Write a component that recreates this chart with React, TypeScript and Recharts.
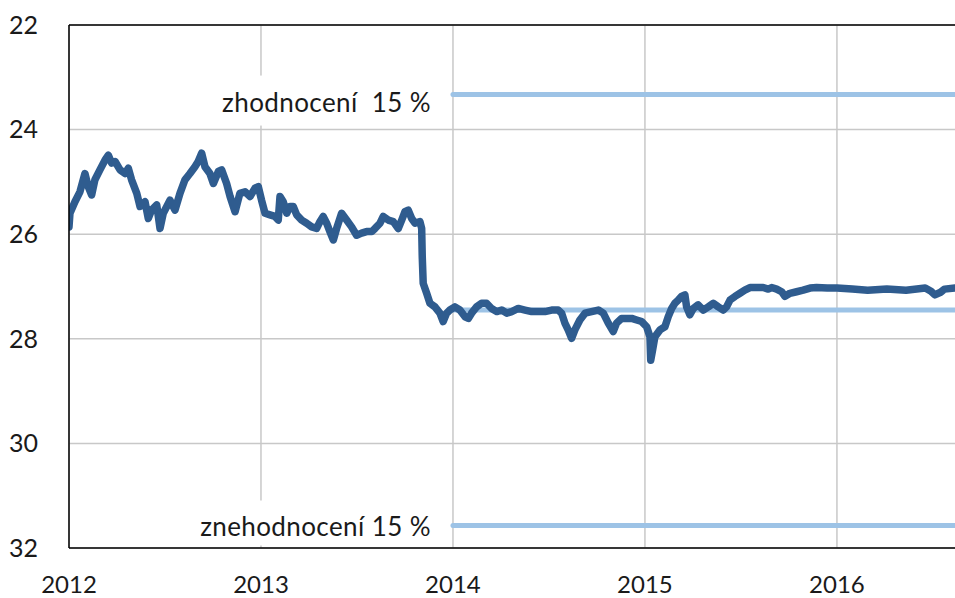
import React from 'react';
import { LineChart, Line, XAxis, YAxis, CartesianGrid, ReferenceLine } from 'recharts';

// EUR/CZK exchange rate (decimal year, CZK per EUR)
const rateDates = [
  2012.0, 2012.005, 2012.031, 2012.057, 2012.083, 2012.1, 2012.118, 2012.135, 2012.161, 2012.188,
  2012.205, 2012.222, 2012.24, 2012.266, 2012.292, 2012.309, 2012.326, 2012.353, 2012.37, 2012.396,
  2012.413, 2012.43, 2012.457, 2012.474, 2012.491, 2012.526, 2012.552, 2012.578, 2012.604, 2012.63,
  2012.656, 2012.673, 2012.691, 2012.708, 2012.734, 2012.752, 2012.778, 2012.795, 2012.821, 2012.839,
  2012.865, 2012.89, 2012.917, 2012.943, 2012.969, 2012.986, 2013.003, 2013.021, 2013.047, 2013.073,
  2013.09, 2013.099, 2013.116, 2013.134, 2013.151, 2013.168, 2013.186, 2013.212, 2013.238, 2013.264,
  2013.29, 2013.307, 2013.324, 2013.342, 2013.359, 2013.377, 2013.394, 2013.42, 2013.446, 2013.472,
  2013.498, 2013.524, 2013.55, 2013.577, 2013.594, 2013.62, 2013.637, 2013.663, 2013.689, 2013.715,
  2013.733, 2013.75, 2013.767, 2013.785, 2013.802, 2013.828, 2013.837, 2013.84, 2013.845, 2013.863,
  2013.88, 2013.906, 2013.932, 2013.949, 2013.967, 2013.984, 2014.01, 2014.036, 2014.063, 2014.08,
  2014.097, 2014.123, 2014.149, 2014.175, 2014.201, 2014.228, 2014.254, 2014.28, 2014.306, 2014.34,
  2014.375, 2014.41, 2014.444, 2014.479, 2014.514, 2014.548, 2014.566, 2014.583, 2014.6, 2014.618,
  2014.635, 2014.661, 2014.688, 2014.722, 2014.757, 2014.783, 2014.809, 2014.835, 2014.852, 2014.878,
  2014.905, 2014.931, 2014.957, 2014.983, 2015.009, 2015.026, 2015.03, 2015.04, 2015.052, 2015.078,
  2015.104, 2015.121, 2015.139, 2015.156, 2015.173, 2015.191, 2015.208, 2015.217, 2015.234, 2015.252,
  2015.277, 2015.304, 2015.33, 2015.356, 2015.382, 2015.408, 2015.425, 2015.443, 2015.469, 2015.495,
  2015.52, 2015.547, 2015.582, 2015.616, 2015.642, 2015.66, 2015.686, 2015.712, 2015.729, 2015.755,
  2015.79, 2015.824, 2015.86, 2015.894, 2015.95, 2016.0, 2016.08, 2016.16, 2016.26, 2016.36,
  2016.46, 2016.49, 2016.51, 2016.54, 2016.56, 2016.615,
];
const rateValues = [
  25.86, 25.6, 25.38, 25.19, 24.84, 25.09, 25.25, 24.96, 24.77, 24.58,
  24.49, 24.64, 24.61, 24.77, 24.84, 24.74, 24.96, 25.22, 25.47, 25.38,
  25.7, 25.54, 25.44, 25.89, 25.6, 25.35, 25.54, 25.22, 24.96, 24.84,
  24.71, 24.61, 24.45, 24.71, 24.84, 25.03, 24.8, 24.77, 25.03, 25.28,
  25.57, 25.22, 25.19, 25.28, 25.12, 25.09, 25.35, 25.6, 25.63, 25.66,
  25.73, 25.28, 25.38, 25.6, 25.47, 25.47, 25.63, 25.73, 25.79, 25.86,
  25.89, 25.76, 25.66, 25.79, 25.95, 26.11, 25.89, 25.6, 25.73, 25.86,
  26.02, 25.98, 25.95, 25.95, 25.89, 25.79, 25.66, 25.73, 25.76, 25.89,
  25.73, 25.57, 25.54, 25.7, 25.79, 25.76, 25.89, 26.43, 26.94, 27.13,
  27.32, 27.39, 27.51, 27.67, 27.51, 27.45, 27.39, 27.45, 27.58, 27.61,
  27.51, 27.39, 27.32, 27.32, 27.42, 27.48, 27.45, 27.51, 27.48, 27.42,
  27.45, 27.48, 27.48, 27.48, 27.45, 27.45, 27.51, 27.7, 27.83, 27.99,
  27.83, 27.64, 27.51, 27.48, 27.45, 27.51, 27.7, 27.86, 27.7, 27.61,
  27.61, 27.61, 27.64, 27.67, 27.77, 27.96, 28.41, 28.21, 27.96, 27.83,
  27.77, 27.58, 27.42, 27.32, 27.26, 27.19, 27.16, 27.39, 27.54, 27.42,
  27.35, 27.45, 27.39, 27.32, 27.39, 27.45, 27.39, 27.26, 27.19, 27.13,
  27.07, 27.02, 27.02, 27.02, 27.05, 27.02, 27.05, 27.1, 27.19, 27.13,
  27.1, 27.07, 27.03, 27.02, 27.03, 27.03, 27.05, 27.07, 27.05, 27.07,
  27.03, 27.09, 27.16, 27.11, 27.05, 27.03,
];

const yearTicks = [2012, 2013, 2014, 2015, 2016];
const rateTicks = [22, 24, 26, 28, 30, 32];
const axisStart = 2012;
const axisEnd = 2016.615;

const bandStart = 2014.0;
const centralStart = 2014.0;
const appreciationLevel = 23.33;
const centralLevel = 27.45;
const depreciationLevel = 31.57;
const appreciationText = 'zhodnocení\u00a0\u00a015 %';
const depreciationText = 'znehodnocení 15 %';

const rateData = rateDates.map((x, i) => ({ x, y: rateValues[i] }));
const upperData = [
  { x: bandStart, y: appreciationLevel },
  { x: axisEnd, y: appreciationLevel },
];
const centralData = [
  { x: centralStart, y: centralLevel },
  { x: axisEnd, y: centralLevel },
];
const lowerData = [
  { x: bandStart, y: depreciationLevel },
  { x: axisEnd, y: depreciationLevel },
];

const FONT = 'Lato, "Open Sans", sans-serif';
const DARK = '#2F5C8F';
const LIGHT = '#9DC3E6';

const makeLabel = (text: string, boxLeft: number, boxTop: number, boxBottom: number, dy: number) =>
  (props: any) => {
    if (props.index !== 0) return null;
    const { x, y } = props;
    return (
      <g>
        <rect x={x - boxLeft} y={y - boxTop} width={boxLeft - 8} height={boxTop + boxBottom} fill="#ffffff" />
        <text
          x={x - 22}
          y={y + dy}
          textAnchor="end"
          dominantBaseline="central"
          fontFamily={FONT}
          fontSize={26}
          letterSpacing={0.4}
          fill="#1a1a1a"
        >
          {text}
        </text>
      </g>
    );
  };

export default function App() {
  return (
    <div style={{ position: 'absolute', left: 0, top: 0, background: '#fff' }}>
      <LineChart width={955} height={598} margin={{ top: 25, right: 0, left: 0, bottom: 0 }}>
        <CartesianGrid stroke="#C8C8C8" strokeWidth={1.5} verticalValues={yearTicks} horizontalValues={rateTicks} />
        <XAxis
          type="number"
          dataKey="x"
          domain={[axisStart, axisEnd]}
          ticks={yearTicks}
          allowDataOverflow
          height={50}
          tickLine={false}
          tickSize={0}
          tickMargin={28}
          axisLine={{ stroke: '#000', strokeWidth: 1.5 }}
          tick={{ fontFamily: FONT, fontSize: 24, fill: '#1a1a1a' }}
        />
        <YAxis
          type="number"
          dataKey="y"
          domain={[22, 32]}
          ticks={rateTicks}
          reversed
          allowDataOverflow
          width={69}
          tickLine={false}
          tickSize={0}
          tickMargin={31}
          axisLine={{ stroke: '#000', strokeWidth: 1.5 }}
          tick={{ fontFamily: FONT, fontSize: 25, fill: '#1a1a1a' }}
        />
        <ReferenceLine y={22} stroke="#000" strokeWidth={1.5} />
        <Line
          data={upperData}
          dataKey="y"
          stroke={LIGHT}
          strokeWidth={5}
          strokeLinecap="round"
          dot={false}
          isAnimationActive={false}
          label={makeLabel(appreciationText, 255, 19, 31, 7)}
        />
        <Line
          data={lowerData}
          dataKey="y"
          stroke={LIGHT}
          strokeWidth={5}
          strokeLinecap="round"
          dot={false}
          isAnimationActive={false}
          label={makeLabel(depreciationText, 280, 25, 20, 0)}
        />
        <Line
          data={centralData}
          dataKey="y"
          stroke={LIGHT}
          strokeWidth={5}
          dot={false}
          isAnimationActive={false}
        />
        <Line
          data={rateData}
          dataKey="y"
          stroke={DARK}
          strokeWidth={7.5}
          strokeLinejoin="round"
          strokeLinecap="round"
          dot={false}
          isAnimationActive={false}
        />
      </LineChart>
    </div>
  );
}
